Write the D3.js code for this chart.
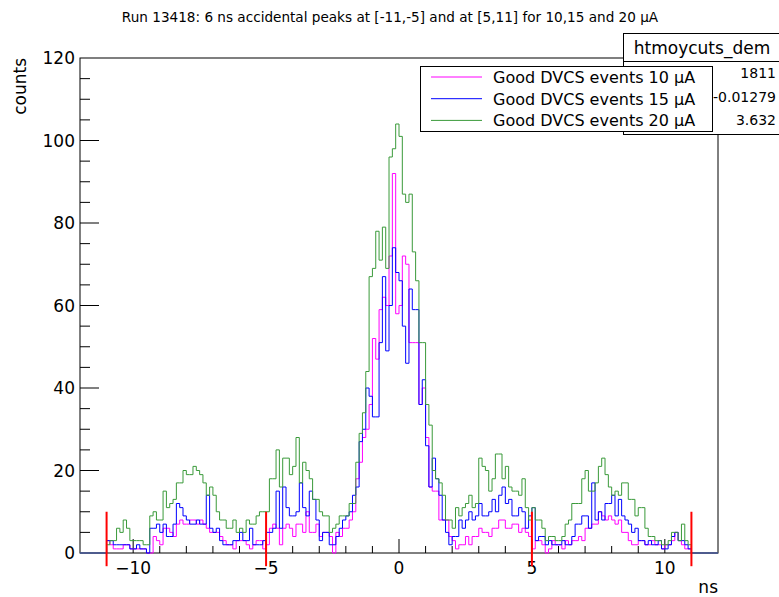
<!DOCTYPE html>
<html>
<head>
<meta charset="utf-8">
<script src="https://cdn.jsdelivr.net/npm/d3@7"></script>
<style>
    body { margin: 0; background: #fff; }
    text { font-family: "DejaVu Sans", sans-serif; fill: #000; }
</style>
</head>
<body>
<div id="chart"></div>
<script>
// histogram range (ns) and bin contents, 0.125 ns bins
const xMin = -12, xMax = 12;

const counts10 = [
    0,0,0,0,0,0,0,0, 3,2,1,1,1,2,2,1,
    1,1,1,1,0,0,4,3, 2,6,6,5,4,7,8,7,
    7,8,8,7,8,7,6,5, 5,5,4,3,2,2,1,3,
    3,3,2,1,2,3,3,1, 2,6,7,6,2,6,7,6,
    4,7,7,5,10,5,5,7, 4,5,5,4,0,5,4,6,
    6,8,10,18,22,28,30,36, 52,47,59,62,60,72,92,58,
    60,72,70,51,51,51,36,40, 28,16,15,15,8,8,8,4,
    3,1,2,2,4,2,4,4, 6,5,5,4,6,6,8,8,
    6,6,7,7,5,6,5,4, 1,3,3,2,0,1,3,2,
    2,1,3,2,3,3,4,3, 6,6,7,7,10,9,8,9,
    8,7,8,5,5,3,2,2, 3,3,2,2,3,2,2,1,
    2,2,3,5,3,2,1,1, 0,0,0,0,0,0,0,0
];

const counts15 = [
    0,0,0,0,0,0,0,0, 3,3,2,2,2,2,2,1,
    1,2,1,1,0,6,6,7, 5,7,4,4,7,12,11,9,
    8,7,7,8,7,7,14,6, 5,6,3,2,2,2,3,3,
    5,3,3,6,2,2,2,3, 5,5,6,15,6,16,11,9,
    9,10,17,11,9,15,13,8, 3,5,5,2,2,4,6,8,
    9,10,14,16,27,30,40,38, 33,33,51,67,49,60,74,68,
    66,55,46,64,59,59,36,42, 26,16,23,18,14,8,5,2,
    4,4,8,6,8,10,8,9, 12,9,9,10,13,10,14,16,
    12,13,9,9,11,10,6,9, 11,3,4,4,2,3,2,2,
    2,3,2,2,4,7,7,9, 9,6,17,8,10,8,12,12,
    14,9,13,9,8,7,5,6, 3,3,2,3,2,2,3,1,
    1,2,4,5,3,3,2,1, 0,0,0,0,0,0,0,0
];

const counts20 = [
    0,0,0,0,0,0,0,0, 2,3,3,6,5,8,6,3,
    3,3,3,2,2,9,10,8, 8,15,11,12,13,17,17,20,
    19,19,21,20,19,17,14,16, 14,10,8,8,6,6,8,5,
    6,5,8,7,7,9,10,10, 10,18,18,25,16,23,23,19,
    21,28,17,22,20,18,13,13, 10,9,9,5,6,7,9,9,
    9,12,12,22,29,34,44,67, 69,78,71,79,69,96,98,104,
    101,87,85,87,73,66,51,51, 36,31,20,18,17,14,8,8,
    6,11,9,11,12,14,11,12, 23,21,20,15,18,24,24,18,
    21,16,15,15,14,18,11,8, 11,8,8,6,3,4,4,3,
    3,4,7,8,12,12,12,18, 20,15,15,17,21,23,19,16,
    14,15,14,17,17,13,13,9, 11,11,6,4,4,3,3,2,
    2,3,5,5,3,7,3,2, 0,0,0,0,0,0,0,0
];

const seriesNames = ["Good DVCS events 10 \u00b5A", "Good DVCS events 15 \u00b5A", "Good DVCS events 20 \u00b5A"];
const seriesColors = ["#ff00ff", "#0000ff", "#3a9a3a"];

const xTickValues = [-10, -5, 0, 5, 10];
const yTickValues = [0, 20, 40, 60, 80, 100, 120];
const windowEdges = [-11, -5, 5, 11];

const statsTitle = "htmoycuts_dem";
const statsValues = ["1811", "-0.01279", "3.632"];

const chartTitle = "Run 13418: 6 ns accidental peaks at [-11,-5] and at [5,11] for 10,15 and 20 \u00b5A";

class TimingPlot {

    constructor(parentElement) {
        this.parentElement = parentElement;
        this.initVis();
    }

    initVis() {
        let vis = this;

        vis.frame = {left: 80, right: 718, top: 58, bottom: 553};

        vis.svg = d3.select("#" + vis.parentElement).append("svg")
            .attr("width", 779)
            .attr("height", 597);

        vis.x = d3.scaleLinear().domain([xMin, xMax]).range([vis.frame.left, vis.frame.right]);
        vis.y = d3.scaleLinear().domain([0, 120]).range([vis.frame.bottom, vis.frame.top]);

        vis.svg.append("text")
            .attr("x", 390)
            .attr("y", 22)
            .attr("text-anchor", "middle")
            .attr("font-size", "13.6px")
            .text(chartTitle);

        vis.drawAxes();
        vis.drawHistograms();
        vis.drawWindows();
        vis.drawStats();
        vis.drawLegend();
    }

    drawAxes() {
        let vis = this;
        let f = vis.frame;

        vis.svg.append("rect")
            .attr("x", f.left)
            .attr("y", f.top)
            .attr("width", f.right - f.left)
            .attr("height", f.bottom - f.top)
            .attr("fill", "none")
            .attr("stroke", "#000");

        // y ticks, major every 20 and minor every 5
        let yTicks = d3.range(5, 120, 5);
        vis.svg.append("g").selectAll("line")
            .data(yTicks)
            .enter().append("line")
            .attr("x1", f.left)
            .attr("x2", d => f.left + (d % 20 === 0 ? 19 : 10))
            .attr("y1", d => vis.y(d))
            .attr("y2", d => vis.y(d))
            .attr("stroke", "#000");

        vis.svg.append("g").selectAll("text")
            .data(yTickValues)
            .enter().append("text")
            .attr("x", 75)
            .attr("y", d => vis.y(d) + 6)
            .attr("text-anchor", "end")
            .attr("font-size", "17px")
            .text(d => d);

        // x ticks, major every 5 and minor every 1
        let xTicks = d3.range(-11, 12, 1);
        vis.svg.append("g").selectAll("line")
            .data(xTicks)
            .enter().append("line")
            .attr("x1", d => vis.x(d))
            .attr("x2", d => vis.x(d))
            .attr("y1", f.bottom)
            .attr("y2", d => f.bottom - (d % 5 === 0 ? 14 : 7))
            .attr("stroke", "#000");

        vis.svg.append("g").selectAll("text")
            .data(xTickValues)
            .enter().append("text")
            .attr("x", d => vis.x(d))
            .attr("y", 574)
            .attr("text-anchor", "middle")
            .attr("font-size", "17px")
            .text(d => d < 0 ? "\u2212" + Math.abs(d) : d);

        vis.svg.append("text")
            .attr("x", f.right)
            .attr("y", 593)
            .attr("text-anchor", "end")
            .attr("font-size", "17px")
            .text("ns");

        vis.svg.append("text")
            .attr("transform", `translate(26, ${f.top}) rotate(-90)`)
            .attr("text-anchor", "end")
            .attr("font-size", "17px")
            .text("counts");
    }

    drawHistograms() {
        let vis = this;

        let line = d3.line()
            .x(d => vis.x(d[0]))
            .y(d => vis.y(d[1]))
            .curve(d3.curveStepAfter);

        [counts10, counts15, counts20].forEach((counts, k) => {
            let binW = (xMax - xMin) / counts.length;
            let pts = counts.map((c, i) => [xMin + i * binW, c]);
            pts.push([xMax, counts[counts.length - 1]]);

            vis.svg.append("path")
                .attr("class", "hist")
                .attr("d", line(pts))
                .attr("fill", "none")
                .attr("stroke", seriesColors[k])
                .attr("stroke-width", 1);
        });
    }

    drawWindows() {
        let vis = this;

        // accidental window limits
        vis.svg.append("g").selectAll("line")
            .data(windowEdges)
            .enter().append("line")
            .attr("x1", d => vis.x(d))
            .attr("x2", d => vis.x(d))
            .attr("y1", vis.y(10))
            .attr("y2", vis.y(-3.2))
            .attr("stroke", "#ff0000")
            .attr("stroke-width", 2);
    }

    drawStats() {
        let vis = this;

        let g = vis.svg.append("g").attr("class", "stats");

        g.append("rect")
            .attr("x", 623.5)
            .attr("y", 33.5)
            .attr("width", 170)
            .attr("height", 101)
            .attr("fill", "#fff")
            .attr("stroke", "#000");

        g.append("line")
            .attr("x1", 623.5)
            .attr("x2", 779)
            .attr("y1", 61.5)
            .attr("y2", 61.5)
            .attr("stroke", "#000");

        g.append("text")
            .attr("x", 702)
            .attr("y", 54)
            .attr("text-anchor", "middle")
            .attr("font-size", "17px")
            .text(statsTitle);

        g.selectAll(".val")
            .data(statsValues)
            .enter().append("text")
            .attr("class", "val")
            .attr("x", 776)
            .attr("y", (d, i) => 78 + i * 23.5)
            .attr("text-anchor", "end")
            .attr("font-size", "14px")
            .text(d => d);
    }

    drawLegend() {
        let vis = this;

        let g = vis.svg.append("g").attr("class", "legend");

        g.append("rect")
            .attr("x", 420.5)
            .attr("y", 66.5)
            .attr("width", 292)
            .attr("height", 65)
            .attr("fill", "#fff")
            .attr("stroke", "#000");

        seriesNames.forEach((name, i) => {
            let cy = 77 + i * 21.7;
            g.append("line")
                .attr("x1", 431)
                .attr("x2", 482)
                .attr("y1", cy)
                .attr("y2", cy)
                .attr("stroke", seriesColors[i]);
            g.append("text")
                .attr("x", 493)
                .attr("y", cy + 6)
                .attr("font-size", "16px")
                .text(name);
        });
    }
}

new TimingPlot("chart");
</script>
</body>
</html>
